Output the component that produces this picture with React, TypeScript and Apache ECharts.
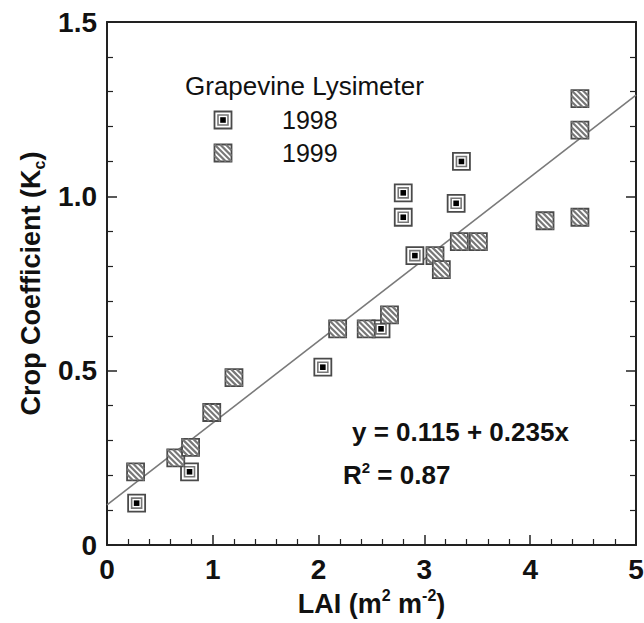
import React, { useEffect, useRef } from "react";
import * as echarts from "echarts";

// ---- data ----
const LAI_1998 = [0.28, 0.78, 2.04, 2.59, 2.91, 2.80, 2.80, 3.30, 3.35];
const KC_1998 = [0.12, 0.21, 0.51, 0.62, 0.83, 1.01, 0.94, 0.98, 1.10];
const LAI_1999 = [0.27, 0.65, 0.79, 0.99, 1.20, 2.18, 2.45, 2.67, 3.10, 3.16, 3.33, 3.51, 4.14, 4.47, 4.47, 4.47];
const KC_1999 = [0.21, 0.25, 0.28, 0.38, 0.48, 0.62, 0.62, 0.66, 0.83, 0.79, 0.87, 0.87, 0.93, 0.94, 1.19, 1.28];
const FIT_INTERCEPT = 0.115;
const FIT_SLOPE = 0.235;
const FIT_X = [0, 5];
const X_TICKS = [0, 1, 2, 3, 4, 5];
const Y_TICKS = [0, 0.5, 1.0, 1.5];
const SERIES_NAMES = ["1998", "1999"];
const LEGEND_TITLE = "Grapevine Lysimeter";
const EQUATION = "y = 0.115 + 0.235x";
const R2_VALUE = "0.87";

const FONT = "'Liberation Sans', Arial, Helvetica, sans-serif";
const INK = "#111";

function box1998(cx: number, cy: number): any[] {
  return [
    { type: "rect", shape: { x: cx - 8.5, y: cy - 8.5, width: 17, height: 17 }, style: { fill: "#fff", stroke: "#4a4a4a", lineWidth: 1.8 } },
    { type: "rect", shape: { x: cx - 5, y: cy - 5, width: 10, height: 10 }, style: { fill: "#fff", stroke: "#777", lineWidth: 1.6 } },
    { type: "rect", shape: { x: cx - 2.8, y: cy - 2.8, width: 5.6, height: 5.6 }, style: { fill: "#000" } },
  ];
}

function box1999(cx: number, cy: number): any[] {
  const h = 8.5;
  const kids: any[] = [
    { type: "rect", shape: { x: cx - h, y: cy - h, width: 2 * h, height: 2 * h }, style: { fill: "#fff", stroke: "#4a4a4a", lineWidth: 1.8 } },
  ];
  const offs = [-11.2, -5.6, 0, 5.6, 11.2];
  for (const c of offs) {
    let x1, y1, x2, y2;
    if (c >= 0) {
      x1 = -h + c; y1 = -h; x2 = h; y2 = h - c;
    } else {
      x1 = -h; y1 = -h - c; x2 = h + c; y2 = h;
    }
    kids.push({
      type: "line",
      shape: { x1: cx + x1, y1: cy + y1, x2: cx + x2, y2: cy + y2 },
      style: { stroke: "#777", lineWidth: 2.2 },
    });
  }
  return kids;
}

export default function App() {
  const ref = useRef<HTMLDivElement>(null);
  useEffect(() => {
    if (!ref.current) return;
    const chart = echarts.init(ref.current, null, { renderer: "svg" });
    const d1998 = LAI_1998.map((x, i) => [x, KC_1998[i]]);
    const d1999 = LAI_1999.map((x, i) => [x, KC_1999[i]]);
    const fit = FIT_X.map((x) => [x, FIT_INTERCEPT + FIT_SLOPE * x]);

    const tickLabel = { fontFamily: FONT, fontSize: 28, fontWeight: "bold", color: INK };
    const axisLine = { show: true, onZero: false, lineStyle: { color: "#222", width: 2 } };
    const axisTick = { show: true, inside: true, length: 10, lineStyle: { color: "#222", width: 1.5 } };
    const minorTick = { show: true, splitNumber: 5, length: 6, lineStyle: { color: "#222", width: 1.2 } };

    const option: any = {
      animation: false,
      backgroundColor: "#fff",
      grid: { left: 107, right: 8, top: 22, bottom: 78, containLabel: false, outerBoundsMode: "none" },
      xAxis: [
        {
          type: "value", min: X_TICKS[0], max: X_TICKS[X_TICKS.length - 1], interval: 1, position: "bottom",
          axisLine, axisTick, minorTick, splitLine: { show: false }, minorSplitLine: { show: false },
          axisLabel: { ...tickLabel, margin: 10, formatter: (v: number) => String(v) },
          name: "{b|LAI (m}{p|2}{b| m}{p|-2}{b|)}",
          nameLocation: "middle", nameGap: 40,
          nameTextStyle: {
            rich: {
              b: { fontFamily: FONT, fontSize: 27, fontWeight: "bold", color: INK, lineHeight: 32 },
              p: { fontFamily: FONT, fontSize: 16, fontWeight: "bold", color: INK, lineHeight: 16, verticalAlign: "top" },
            },
          },
        },
        {
          type: "value", min: 0, max: 5, interval: 1, position: "top",
          axisLine, axisTick: { show: false }, axisLabel: { show: false }, splitLine: { show: false },
        },
      ],
      yAxis: [
        {
          type: "value", min: Y_TICKS[0], max: Y_TICKS[Y_TICKS.length - 1], interval: 0.5, position: "left",
          axisLine, axisTick, minorTick, splitLine: { show: false }, minorSplitLine: { show: false },
          axisLabel: { ...tickLabel, margin: 10, formatter: (v: number) => (v === 0 ? "0" : v.toFixed(1)) },
          name: "{b|Crop Coefficient (K}{s|c}{b|)}",
          nameLocation: "middle", nameGap: 50,
          nameTextStyle: {
            rich: {
              b: { fontFamily: FONT, fontSize: 27, fontWeight: "bold", color: INK, lineHeight: 32 },
              s: { fontFamily: FONT, fontSize: 16, fontWeight: "bold", color: INK, lineHeight: 16, verticalAlign: "bottom" },
            },
          },
        },
        {
          type: "value", min: 0, max: 1.5, interval: 0.5, position: "right",
          axisLine, axisTick, minorTick, axisLabel: { show: false }, splitLine: { show: false },
        },
      ],
      series: [
        {
          type: "line", data: fit, xAxisIndex: 0, yAxisIndex: 0, showSymbol: false, symbol: "none",
          lineStyle: { color: "#7a7a7a", width: 1.6 }, z: 1, silent: true,
        },
        {
          name: SERIES_NAMES[0], type: "custom", data: d1998, xAxisIndex: 0, yAxisIndex: 0, z: 3, clip: false,
          encode: { x: 0, y: 1 },
          renderItem: (_p: any, api: any) => {
            const c = api.coord([api.value(0), api.value(1)]);
            return { type: "group", children: box1998(c[0], c[1]) };
          },
        },
        {
          name: SERIES_NAMES[1], type: "custom", data: d1999, xAxisIndex: 0, yAxisIndex: 0, z: 3, clip: false,
          encode: { x: 0, y: 1 },
          renderItem: (_p: any, api: any) => {
            const c = api.coord([api.value(0), api.value(1)]);
            return { type: "group", children: box1999(c[0], c[1]) };
          },
        },
      ],
      graphic: [
        {
          type: "text", left: 185, top: 73,
          style: { text: LEGEND_TITLE, fontFamily: FONT, fontSize: 26, fontWeight: "normal", fill: INK },
        },
        { type: "group", children: box1998(223, 120) },
        {
          type: "text", x: 282, y: 120,
          style: { text: SERIES_NAMES[0], fontFamily: FONT, fontSize: 25, fill: INK, verticalAlign: "middle" },
        },
        { type: "group", children: box1999(223, 153) },
        {
          type: "text", x: 282, y: 153,
          style: { text: SERIES_NAMES[1], fontFamily: FONT, fontSize: 25, fill: INK, verticalAlign: "middle" },
        },
        {
          type: "text", x: 352, y: 432,
          style: { text: EQUATION, fontFamily: FONT, fontSize: 26, fontWeight: "bold", fill: INK, verticalAlign: "middle" },
        },
        {
          type: "text", x: 343, y: 475,
          style: {
            text: "{b|R}{p|2}{b| = " + R2_VALUE + "}",
            verticalAlign: "middle",
            rich: {
              b: { fontFamily: FONT, fontSize: 26, fontWeight: "bold", fill: INK, lineHeight: 30 },
              p: { fontFamily: FONT, fontSize: 15, fontWeight: "bold", fill: INK, lineHeight: 15, verticalAlign: "top" },
            },
          },
        },
      ],
    };
    chart.setOption(option);
    return () => chart.dispose();
  }, []);
  return (
    <div
      ref={ref}
      style={{ position: "fixed", left: 0, top: 0, width: 644, height: 623, background: "#fff" }}
    />
  );
}
